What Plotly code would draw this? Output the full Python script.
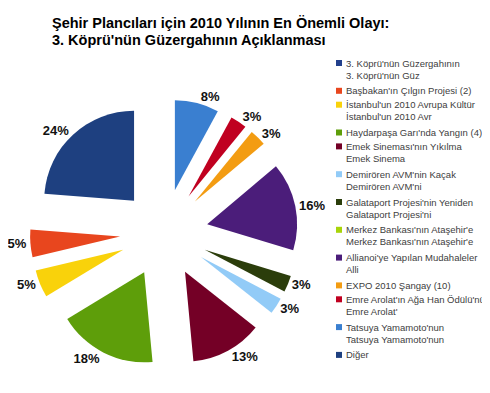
import plotly.graph_objects as go

title_lines = ["Şehir Plancıları için 2010 Yılının En Önemli Olayı:",
               "3. Köprü'nün Güzergahının Açıklanması"]

labels = [
    "3. Köprü'nün Güzergahının<br>3. Köprü'nün Güz",
    "Başbakan'ın Çılgın Projesi (2)",
    "İstanbul'un 2010 Avrupa Kültür<br>İstanbul'un 2010 Avr",
    "Haydarpaşa Garı'nda Yangın (4)",
    "Emek Sineması'nın Yıkılma<br>Emek Sinema",
    "Demirören AVM'nin Kaçak<br>Demirören AVM'ni",
    "Galataport Projesi'nin Yeniden<br>Galataport Projesi'ni",
    "Merkez Bankası'nın Ataşehir'e<br>Merkez Bankası'nın Ataşehir'e",
    "Allianoi'ye Yapılan Mudahaleler<br>Alli",
    "EXPO 2010 Şangay (10)",
    "Emre Arolat'ın Ağa Han Ödülü'nü<br>Emre Arolat'",
    "Tatsuya Yamamoto'nun<br>Tatsuya Yamamoto'nun",
    "Diğer",
]
values = [0, 5, 5, 18, 13, 3, 3, 0, 16, 3, 3, 8, 24]
colors = ["#22408C", "#E8461E", "#F9D20B", "#5E9E0A", "#740026", "#92CBF7",
          "#2B3D0B", "#A8D40A", "#4B1D7A", "#F39C12", "#C00020", "#3A7FD0",
          "#1E4080"]

total = sum(values)
texts = [f"{v}%" if v > 0 else "" for v in values]
# first slice starts where "Diğer" ends (counterclockwise layout)
rotation = -values[-1] / total * 360

W, H = 490, 393
cx, cy, half = 156, 225, 134

fig = go.Figure(go.Pie(
    labels=labels,
    values=values,
    sort=False,
    direction="counterclockwise",
    rotation=rotation,
    marker=dict(colors=colors, line=dict(width=0)),
    pull=0.49,
    text=texts,
    textinfo="text",
    textposition="outside",
    outsidetextfont=dict(family="Liberation Sans, Arial", size=13, color="#111111", weight="bold"),
    hoverinfo="label+value",
    showlegend=False,
    domain=dict(x=[(cx - half) / W, (cx + half) / W],
                y=[(H - cy - half) / H, (H - cy + half) / H]),
))

def px_x(x):
    return x / W

def px_y(y):
    return 1 - y / H

annotations = []
shapes = []

# title (two lines)
for i, line in enumerate(title_lines):
    annotations.append(dict(
        text=f"<b>{line}</b>", x=px_x(42), y=px_y(15 + 17 * i),
        xref="paper", yref="paper", xanchor="left", yanchor="middle",
        showarrow=False,
        font=dict(family="Liberation Sans, Arial", size=14.5, color="#000000"),
    ))

# legend drawn next to the pie
line_step = 13.9
first_center = 55
n_lines = 0
for lab, col in zip(labels, colors):
    c = first_center + line_step * n_lines
    shapes.append(dict(
        type="rect", xref="paper", yref="paper",
        x0=px_x(328), x1=px_x(334), y0=px_y(c + 3), y1=px_y(c - 3),
        fillcolor=col, line=dict(width=0),
    ))
    annotations.append(dict(
        text=lab, x=px_x(336), y=px_y(c - 7.5),
        xref="paper", yref="paper", xanchor="left", yanchor="top",
        align="left", showarrow=False,
        font=dict(family="Liberation Sans, Arial", size=9.5, color="#404040"),
    ))
    n_lines += lab.count("<br>") + 1

fig.update_layout(
    width=W, height=H,
    margin=dict(l=0, r=0, t=0, b=0, autoexpand=False),
    paper_bgcolor="white",
    plot_bgcolor="white",
    annotations=annotations,
    shapes=shapes,
    showlegend=False,
)

fig.write_html("out.html")
